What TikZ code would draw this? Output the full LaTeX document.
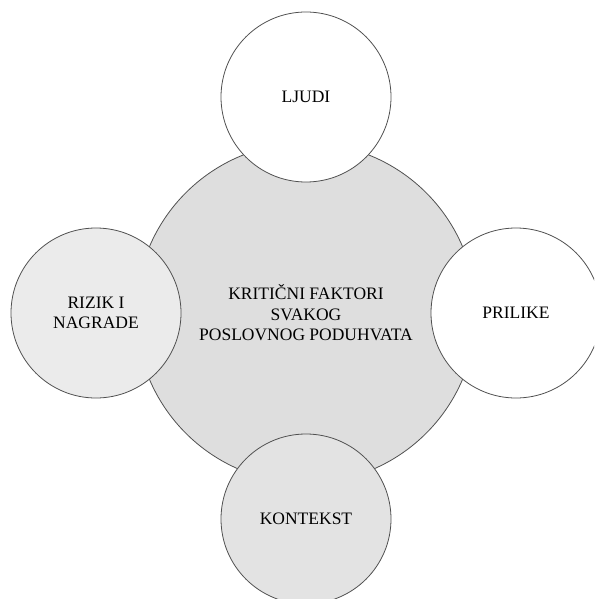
\documentclass[tikz,border=0pt]{standalone}
\usepackage{fontspec}
\setmainfont{Liberation Serif}
\usepackage{tikz}
\usetikzlibrary{shapes.geometric}
\definecolor{coregray}{HTML}{DEDEDE}
\definecolor{leftgray}{HTML}{EBEBEB}
\definecolor{lowgray}{HTML}{E3E3E3}
\definecolor{rimgray}{HTML}{505050}

\begin{document}
\begin{tikzpicture}[x=1pt, y=-1pt,
    factor/.style={circle, draw=rimgray, line width=0.8pt, align=center, inner sep=0pt,
      font=\fontsize{17.5}{20.5}\selectfont},
    core/.style={factor, minimum size=340pt, fill=coregray},
    side/.style={factor, minimum size=170pt}]
      \useasboundingbox (0, 0) rectangle (594, 599);
      \clip (0, 0) rectangle (594, 599);
      \node[core] (kriticni) at (306, 313) {KRITIČNI FAKTORI\\SVAKOG\\POSLOVNOG PODUHVATA};
      \node[side, fill=white] (ljudi) at (306, 97) {LJUDI};
      \node[side, fill=leftgray] (rizik) at (96, 313) {RIZIK I\\NAGRADE};
      \node[side, fill=white] (prilike) at (516, 313) {PRILIKE};
      \node[side, fill=lowgray] (kontekst) at (306, 519) {KONTEKST};
  \end{tikzpicture}
\end{document}
